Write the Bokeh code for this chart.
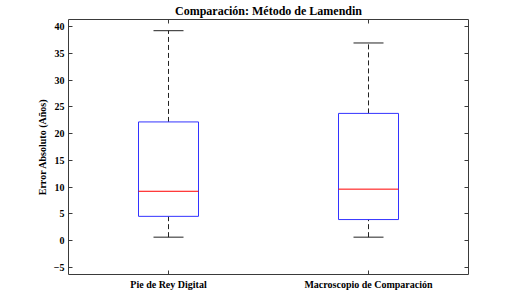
from bokeh.plotting import figure
from bokeh.models import FactorRange, Range1d, FixedTicker, LinearAxis, CategoricalAxis, ColumnDataSource
from bokeh.transform import dodge
from bokeh.embed import file_html
from bokeh.resources import INLINE

categories = ["Pie de Rey Digital", "Macroscopio de Comparación"]
lower_whisker = [0.6, 0.6]
q1 = [4.5, 3.9]
median = [9.2, 9.6]
q3 = [22.2, 23.8]
upper_whisker = [39.3, 37.0]
y_ticks = [-5, 0, 5, 10, 15, 20, 25, 30, 35, 40]

FONT = "Liberation Serif"
AX = "#3a3a3a"

p = figure(width=518, height=296, output_backend="svg", toolbar_location=None,
           x_range=FactorRange(*categories, range_padding=0),
           y_range=Range1d(-6.4, 41.4),
           min_border_left=68, min_border_right=50, min_border_top=0, min_border_bottom=22,
           title="Comparación: Método de Lamendin")
p.title.text_font = FONT
p.title.text_font_size = "12px"
p.title.text_font_style = "bold"
p.title.align = "center"
p.title.standoff = 3
p.title.text_color = "black"

p.grid.visible = False
p.outline_line_color = AX
p.outline_line_width = 1

src = ColumnDataSource(dict(x=categories, lw=lower_whisker, q1=q1, med=median, q3=q3, uw=upper_whisker))

rng = p.x_range
# whiskers (dashed)
p.segment(x0="x", y0="q3", x1="x", y1="uw", source=src, line_color="#222222", line_dash="5 3", line_width=1)
p.segment(x0="x", y0="lw", x1="x", y1="q1", source=src, line_color="#222222", line_dash="5 3", line_width=1)
# caps
p.segment(x0=dodge("x", -0.075, range=rng), x1=dodge("x", 0.075, range=rng), y0="uw", y1="uw",
          source=src, line_color="#222222", line_width=1)
p.segment(x0=dodge("x", -0.075, range=rng), x1=dodge("x", 0.075, range=rng), y0="lw", y1="lw",
          source=src, line_color="#222222", line_width=1)
# boxes
p.vbar(x="x", bottom="q1", top="q3", width=0.3, source=src, fill_color=None, line_color="#3333ff", line_width=1)
# medians
p.segment(x0=dodge("x", -0.15, range=rng), x1=dodge("x", 0.15, range=rng), y0="med", y1="med",
          source=src, line_color="red", line_width=1)

def style(ax, labels=True):
    ax.axis_line_color = None
    ax.major_tick_line_color = AX
    ax.major_tick_in = 4
    ax.major_tick_out = 0
    ax.minor_tick_line_color = None
    ax.major_label_text_font = FONT
    ax.major_label_text_font_style = "bold"
    ax.major_label_text_color = "black"
    ax.major_label_text_font_size = "10px" if labels else "0px"
    if not labels:
        ax.major_label_text_color = None

style(p.yaxis[0])
p.yaxis[0].ticker = FixedTicker(ticks=y_ticks)
p.yaxis[0].axis_label = "Error Absoluto (Años)"
p.yaxis[0].axis_label_text_font = FONT
p.yaxis[0].axis_label_text_font_style = "bold"
p.yaxis[0].axis_label_text_color = "black"
p.yaxis[0].axis_label_text_font_size = "10px"
p.yaxis[0].axis_label_standoff = 3
p.yaxis[0].major_label_standoff = 4

style(p.xaxis[0])
p.xaxis[0].major_label_text_font_size = "10px"
p.xaxis[0].major_label_standoff = 4

ry = LinearAxis(ticker=FixedTicker(ticks=y_ticks))
style(ry, labels=False)
p.add_layout(ry, "right")
tx = CategoricalAxis()
style(tx, labels=False)
p.add_layout(tx, "above")

open("out.html", "w").write(file_html(p, INLINE))
